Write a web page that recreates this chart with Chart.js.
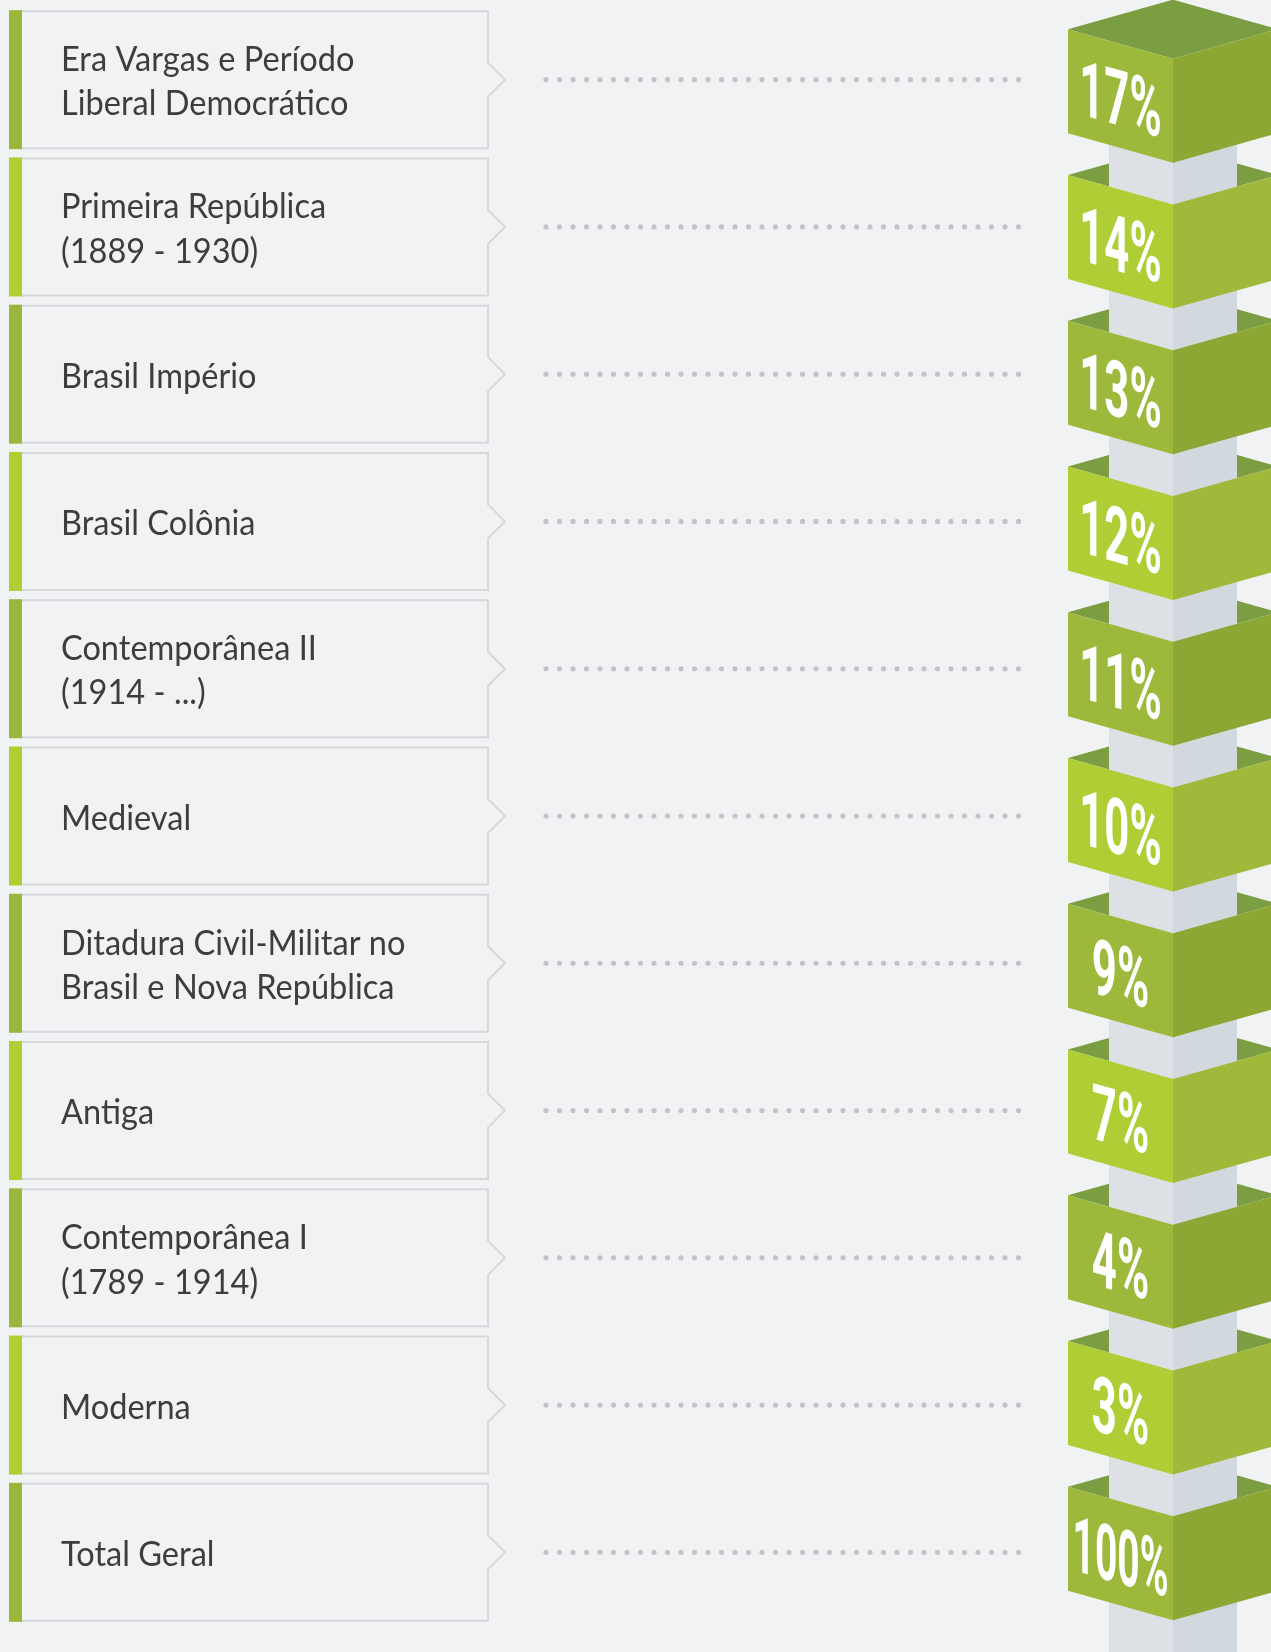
<!DOCTYPE html>
<html lang="pt-BR">
<head>
<meta charset="utf-8">
<title>Períodos</title>
<script src="https://cdn.jsdelivr.net/npm/chart.js@4/dist/chart.umd.min.js"></script>
<style>
  html, body { margin: 0; padding: 0; background: #f1f2f4; }
  canvas { display: block; }
</style>
</head>
<body>
<canvas id="periodosChart" width="1271" height="1652"></canvas>
<script>
const categorias = [
    ['Era Vargas e Período', 'Liberal Democrático'],
    ['Primeira República', '(1889 - 1930)'],
    ['Brasil Império'],
    ['Brasil Colônia'],
    ['Contemporânea II', '(1914 - ...)'],
    ['Medieval'],
    ['Ditadura Civil-Militar no', 'Brasil e Nova República'],
    ['Antiga'],
    ['Contemporânea I', '(1789 - 1914)'],
    ['Moderna'],
    ['Total Geral']
];
const percentuais = [17, 14, 13, 12, 11, 10, 9, 7, 4, 3, 100];
const rotulos = percentuais.map(v => v + '%');

// cores
const fundo = '#f1f2f4';
const verdeEscuro = { barra: '#9ab73b', esq: '#9cb93b', dir: '#8ca734' };
const verdeClaro = { barra: '#b0cd34', esq: '#afcd34', dir: '#a0b93a' };
const topoCubo = '#7b9e42';

const desenhoInfografico = {
    id: 'desenhoInfografico',
    beforeDraw(chart) {
        const c = chart.ctx;
        c.save();
        c.fillStyle = fundo;
        c.fillRect(0, 0, chart.width, chart.height);
        c.restore();
    },
    afterDatasetsDraw(chart) {
        const c = chart.ctx;
        const y = chart.scales.y;
        const n = categorias.length;
        const cx = 1173;      // eixo da coluna de cubos
        const meia = 105;     // meia largura do cubo
        const incl = 0.281;   // inclinação das faces
        const alt = 104;      // altura das faces
        const y0 = y.getPixelForValue(0);
        // a pilha de cubos é um pouco mais compacta que as caixas
        const cuboY = i => y0 + (y.getPixelForValue(i) - y0) * 0.9898;

        c.save();
        // caixas e textos
        for (let i = 0; i < n; i++) {
            const cy = y.getPixelForValue(i);
            const cor = i % 2 === 0 ? verdeEscuro : verdeClaro;
            const top = cy - 68.5, bot = cy + 68.5;

            c.fillStyle = cor.barra;
            c.fillRect(9, top - 1, 13, bot - top + 2);

            c.strokeStyle = '#d6d8da';
            c.lineWidth = 2;
            c.beginPath();
            c.moveTo(22, top);
            c.lineTo(488, top);
            c.lineTo(488, cy - 17);
            c.lineTo(505, cy);
            c.lineTo(488, cy + 17);
            c.lineTo(488, bot);
            c.lineTo(22, bot);
            c.stroke();

            c.fillStyle = '#3d3d3d';
            c.font = '35px Lato';
            c.textBaseline = 'alphabetic';
            const linhas = categorias[i];
            linhas.forEach((t, k) => {
                const by = cy + 13.5 + (k - (linhas.length - 1) / 2) * 44.5;
                c.save();
                c.translate(61, by);
                c.scale(0.93, 1);
                c.fillText(t, 0, 0);
                c.restore();
            });

            // linha pontilhada
            c.fillStyle = '#c3c4c7';
            for (let x = 546; x <= 1020; x += 13.5) {
                c.beginPath();
                c.arc(x, cy, 2.6, 0, Math.PI * 2);
                c.fill();
            }
        }

        // faces superiores dos cubos
        for (let i = 0; i < n; i++) {
            const cy = cuboY(i);
            c.fillStyle = topoCubo;
            c.beginPath();
            c.moveTo(cx, cy - 80);
            c.lineTo(cx + meia, cy - 80 + meia * incl);
            c.lineTo(cx, cy - 80 + 2 * meia * incl);
            c.lineTo(cx - meia, cy - 80 + meia * incl);
            c.closePath();
            c.fill();
        }

        // coluna central
        c.fillStyle = '#dde1e5';
        c.fillRect(cx - 64, y0, 64, chart.height - y0);
        c.fillStyle = '#d1d8de';
        c.fillRect(cx, y0, 64, chart.height - y0);

        // faces frontais e percentuais
        for (let i = 0; i < n; i++) {
            const cy = cuboY(i);
            const cor = i % 2 === 0 ? verdeEscuro : verdeClaro;
            const yl = cy - 80 + meia * incl;     // canto esquerdo
            const ym = cy - 80 + 2 * meia * incl; // canto frontal

            c.fillStyle = cor.esq;
            c.beginPath();
            c.moveTo(cx - meia, yl);
            c.lineTo(cx, ym);
            c.lineTo(cx, ym + alt);
            c.lineTo(cx - meia, yl + alt);
            c.closePath();
            c.fill();

            c.fillStyle = cor.dir;
            c.beginPath();
            c.moveTo(cx, ym);
            c.lineTo(cx + meia, yl);
            c.lineTo(cx + meia, yl + alt);
            c.lineTo(cx, ym + alt);
            c.closePath();
            c.fill();

            // texto inclinado na face esquerda
            const fx = cx - meia / 2;
            const fy = (yl + ym) / 2 + alt / 2;
            c.save();
            c.translate(fx, fy);
            c.transform(1, incl, 0, 1, 0, 0);
            c.scale(0.56, 1);
            c.fillStyle = '#ffffff';
            c.font = 'bold 78px Roboto';
            c.textAlign = 'center';
            c.textBaseline = 'alphabetic';
            c.fillText(rotulos[i], 0, 30, 96 / 0.56);
            c.restore();
        }
        c.restore();
    }
};

new Chart(document.getElementById('periodosChart').getContext('2d'), {
    type: 'bar',
    data: {
        labels: categorias,
        datasets: [{
            label: 'Percentual',
            data: percentuais,
            backgroundColor: 'rgba(0,0,0,0)',
            borderWidth: 0
        }]
    },
    options: {
        indexAxis: 'y',
        responsive: false,
        animation: false,
        devicePixelRatio: 1,
        layout: { padding: { top: 6, bottom: 26, left: 0, right: 0 } },
        scales: {
            x: { display: false, min: 0, max: 100 },
            y: { display: false }
        },
        plugins: {
            legend: { display: false },
            tooltip: { enabled: false }
        }
    },
    plugins: [desenhoInfografico]
});
</script>
</body>
</html>
